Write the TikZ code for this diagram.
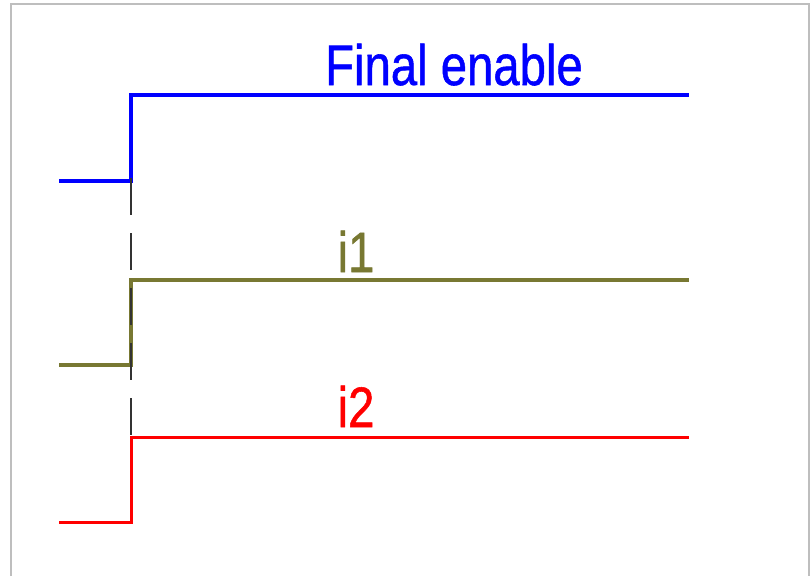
\documentclass[tikz,border=0pt]{standalone}
\usepackage{fontspec}
\setmainfont{Liberation Sans}
\newfontfamily\sigfont[FakeBold=1]{Liberation Sans}
\usepackage[dvipsnames,svgnames]{xcolor}
\definecolor{sigolive}{RGB}{120,120,50}
\definecolor{framegray}{RGB}{190,190,190}

\begin{document}
\begin{tikzpicture}[x=1pt,y=-1pt,
 wave/.style={line width=#1,line join=miter,line cap=butt},
 label/.style={font=\sigfont\fontsize{57}{60}\selectfont,anchor=base,inner sep=0pt,
  xscale=.83,transform shape},
 marker/.style={black!80,line width=1.3pt,dash pattern=on 37pt off 18pt}]
\useasboundingbox (0,0) rectangle (811,576);
\draw[framegray,line width=1.5pt] (11,576) -- (11,4) -- (809,4) -- (809,576);

\begin{scope}
\coordinate (fe-lo) at (59,181);
\coordinate (fe-up) at (131,181);
\coordinate (fe-hi) at (131,95);
\coordinate (fe-end) at (689,95);
\coordinate (i1-lo) at (59,365);
\coordinate (i1-up) at (131,365);
\coordinate (i1-hi) at (131,280);
\coordinate (i1-end) at (689,280);
\coordinate (i2-lo) at (59,522);
\coordinate (i2-up) at (131,522);
\coordinate (i2-hi) at (131,437);
\coordinate (i2-end) at (689,437);

\draw[wave=4pt,blue] (fe-lo) -- (fe-up) -- (fe-hi) -- (fe-end);
\draw[wave=3.5pt,sigolive] (i1-lo) -- (i1-up) -- (i1-hi) -- (i1-end);
\draw[wave=3pt,red] (i2-lo) -- (i2-up) -- (i2-hi) -- (i2-end);

\coordinate (mark-top) at (131,178);
\draw[marker] (mark-top) -- (i2-hi);

\node[label,text=blue] (fe-name) at (454,85) {Final enable};
\node[label,text=sigolive] (i1-name) at (356,272) {i1};
\node[label,text=red] (i2-name) at (356,427) {i2};
\end{scope}
\end{tikzpicture}
\end{document}
